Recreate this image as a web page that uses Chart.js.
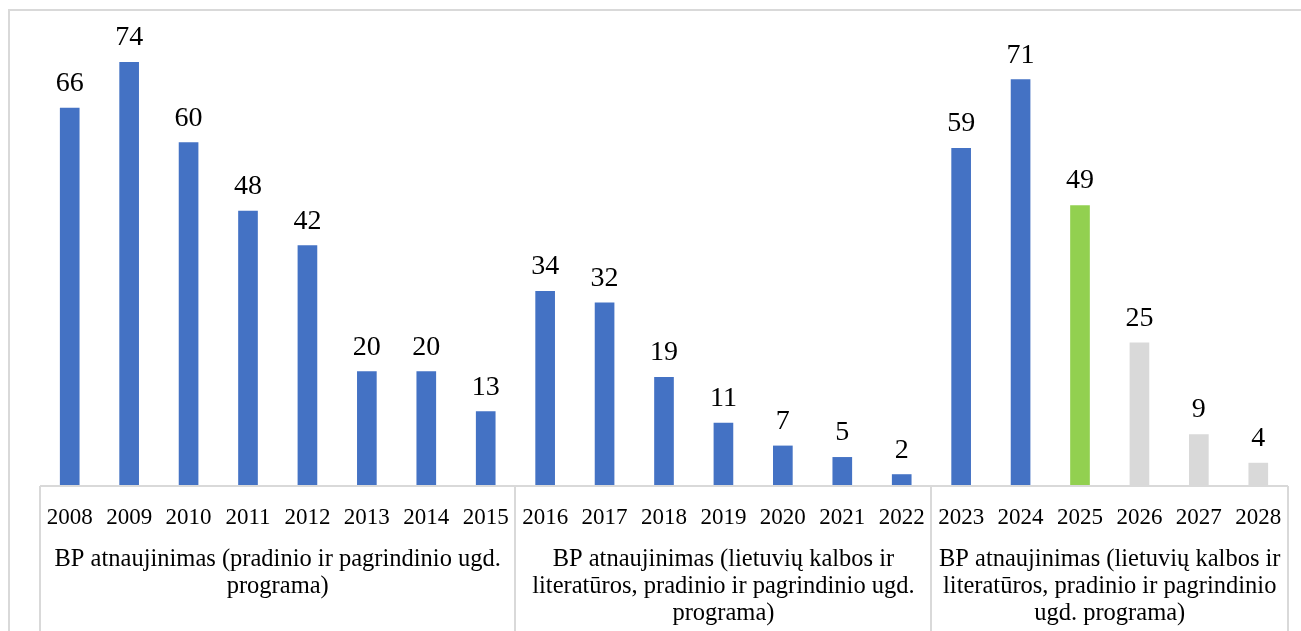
<!DOCTYPE html>
<html>
<head>
<meta charset="utf-8">
<script src="https://cdn.jsdelivr.net/npm/chart.js@4"></script>
<style>
  html, body { margin: 0; padding: 0; background: #fff; }
  #wrap { width: 1301px; height: 631px; }
</style>
</head>
<body>
<div id="wrap"><canvas id="bpChart" width="1301" height="631"></canvas></div>
<script>
// ===== DATA =====
const years = ['2008', '2009', '2010', '2011', '2012', '2013', '2014', '2015',
  '2016', '2017', '2018', '2019', '2020', '2021', '2022',
  '2023', '2024', '2025', '2026', '2027', '2028'];
const counts = [66, 74, 60, 48, 42, 20, 20, 13, 34, 32, 19, 11, 7, 5, 2, 59, 71, 49, 25, 9, 4];
const groupSizes = [8, 7, 6];
const groupLabels = [
  ['BP atnaujinimas (pradinio ir pagrindinio ugd.', 'programa)'],
  ['BP atnaujinimas (lietuvių kalbos ir', 'literatūros, pradinio ir pagrindinio ugd.', 'programa)'],
  ['BP atnaujinimas (lietuvių kalbos ir', 'literatūros, pradinio ir pagrindinio', 'ugd. programa)']
];

// ===== STYLE =====
const SERIF = '"Liberation Serif", "Times New Roman", serif';
const LINE = '#d9d9d9';
const barColors = years.map(y => {
  if (+y === 2025) return '#92d050';
  if (+y > 2025) return '#d9d9d9';
  return '#4472c4';
});

// ===== PLUGIN: frame, value labels, groups =====
const decor = {
  id: 'decor',
  beforeDraw(chart) {
    const ctx = chart.ctx;
    ctx.save();
    ctx.strokeStyle = LINE;
    ctx.lineWidth = 2;
    ctx.strokeRect(9, 10, 1400, 700);
    ctx.restore();
  },
  afterDatasetsDraw(chart) {
    const ctx = chart.ctx;
    const meta = chart.getDatasetMeta(0);
    ctx.save();
    ctx.fillStyle = '#000';
    ctx.font = '28px ' + SERIF;
    ctx.textAlign = 'center';
    ctx.textBaseline = 'alphabetic';
    meta.data.forEach((bar, i) => {
      ctx.fillText(String(counts[i]), bar.x, bar.y - 17);
    });
    ctx.restore();
  },
  afterDraw(chart) {
    const ctx = chart.ctx;
    const x = chart.scales.x;
    const area = chart.chartArea;
    const step = x.getPixelForValue(1) - x.getPixelForValue(0);
    ctx.save();
    ctx.strokeStyle = LINE;
    ctx.lineWidth = 2;
    // axis line
    ctx.beginPath();
    ctx.moveTo(area.left, area.bottom);
    ctx.lineTo(area.right, area.bottom);
    ctx.stroke();
    // group dividers and labels
    let start = 0;
    const bounds = [area.left];
    groupSizes.forEach(n => {
      start += n;
      bounds.push(x.getPixelForValue(start - 1) + step / 2);
    });
    bounds.forEach(bx => {
      ctx.beginPath();
      ctx.moveTo(Math.round(bx), area.bottom);
      ctx.lineTo(Math.round(bx), chart.height + 10);
      ctx.stroke();
    });
    ctx.fillStyle = '#000';
    ctx.font = '24.5px ' + SERIF;
    ctx.textAlign = 'center';
    ctx.textBaseline = 'alphabetic';
    groupLabels.forEach((lines, g) => {
      const cx = (bounds[g] + bounds[g + 1]) / 2;
      lines.forEach((t, k) => {
        ctx.fillText(t, cx, 566 + k * 27);
      });
    });
    ctx.restore();
  }
};

// ===== CHART =====
new Chart(document.getElementById('bpChart').getContext('2d'), {
  type: 'bar',
  data: {
    labels: years,
    datasets: [{
      data: counts,
      backgroundColor: barColors,
      barThickness: 19
    }]
  },
  options: {
    responsive: false,
    animation: false,
    layout: { padding: { left: 40, right: 13, top: 28, bottom: 0 } },
    plugins: { legend: { display: false }, tooltip: { enabled: false } },
    scales: {
      x: {
        grid: { display: false },
        border: { display: false },
        ticks: {
          color: '#000',
          font: { family: SERIF, size: 23 },
          padding: 10,
          maxRotation: 0,
          autoSkip: false
        },
        afterFit(scale) { scale.height = 145; }
      },
      y: {
        display: false,
        min: 0,
        max: 80
      }
    }
  },
  plugins: [decor]
});
</script>
</body>
</html>
